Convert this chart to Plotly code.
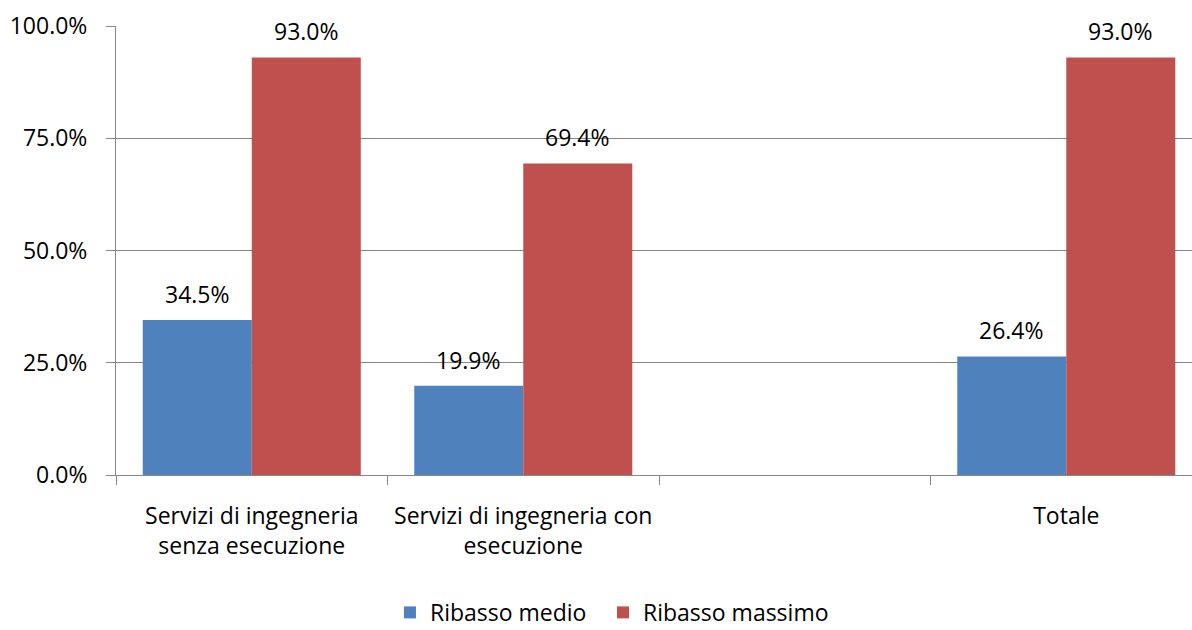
import plotly.graph_objects as go

categories = ["Servizi di ingegneria<br>senza esecuzione",
              "Servizi di ingegneria con<br>esecuzione",
              " ",
              "Totale"]
ribasso_medio = [0.345, 0.199, None, 0.264]
ribasso_massimo = [0.930, 0.694, None, 0.930]
series_names = ["Ribasso medio", "Ribasso massimo"]
colors = ["#4F81BD", "#C0504D"]
y_ticks = [0, 0.25, 0.5, 0.75, 1.0]

FONT = "Open Sans"
FS = 23
GRID = "#878787"
BARGAP = 0.197

fig = go.Figure()
for k, (name, vals, col) in enumerate(zip(series_names, [ribasso_medio, ribasso_massimo], colors)):
    fig.add_trace(go.Bar(x=categories, y=vals, name=name, marker_color=col,
                         marker_line_width=0,
                         legend="legend" if k == 0 else "legend2"))

# data labels
half = (1 - BARGAP) / 2
for s, vals in enumerate([ribasso_medio, ribasso_massimo]):
    off = -half / 2 if s == 0 else half / 2
    for i, v in enumerate(vals):
        if v is None:
            continue
        fig.add_annotation(x=i + off, y=v, xref="x", yref="y",
                           text=f"{v*100:.1f}%", showarrow=False,
                           yanchor="middle", yshift=26,
                           font=dict(family=FONT, size=FS, color="black"))

leg_common = dict(orientation="h", yanchor="bottom", y=-0.354,
                  xanchor="left", font=dict(family=FONT, size=FS),
                  itemwidth=30)
fig.update_layout(
    width=1192, height=630,
    margin=dict(l=116, r=0, t=26, b=155, autoexpand=False),
    paper_bgcolor="white", plot_bgcolor="white",
    barmode="group", bargap=BARGAP, bargroupgap=0,
    font=dict(family=FONT, size=FS, color="black"),
    showlegend=True,
    legend=dict(x=0.2546, **leg_common),
    legend2=dict(x=0.4526, **leg_common),
)
fig.update_xaxes(
    type="category", range=[-0.5, 3.463], automargin=False,
    showline=True, linecolor=GRID, linewidth=1,
    ticks="outside", tickson="boundaries", ticklen=9, tickcolor=GRID,
    ticklabelstandoff=20,
    showgrid=False, tickfont=dict(family=FONT, size=FS),
)
fig.update_yaxes(
    range=[0, 1], tickvals=y_ticks, tickformat=".1%", automargin=False,
    showgrid=True, gridcolor=GRID, gridwidth=1,
    showline=True, linecolor=GRID, linewidth=1,
    ticks="outside", ticklen=9, tickcolor=GRID,
    ticklabelstandoff=14,
    zeroline=False, tickfont=dict(family=FONT, size=FS),
)
fig.write_html("out.html", config={"displayModeBar": False},
               post_script="document.body.style.margin='0';document.body.style.overflow='hidden';")
